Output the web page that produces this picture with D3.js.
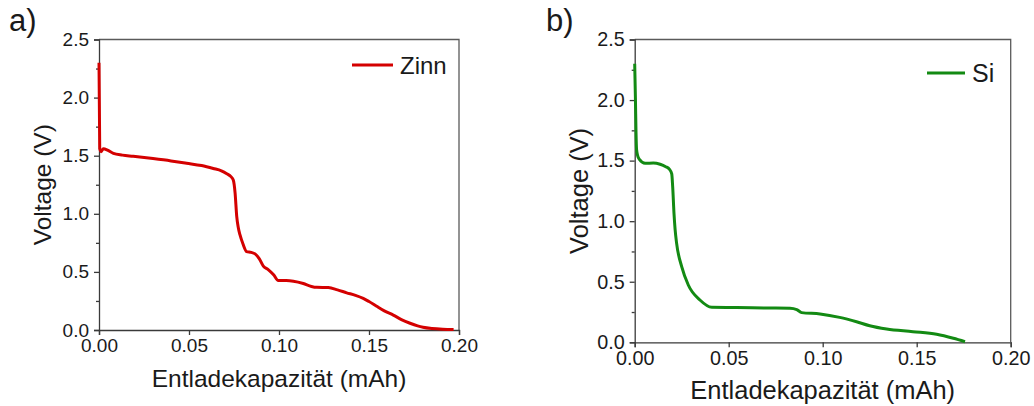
<!DOCTYPE html>
<html>
<head>
<meta charset="utf-8">
<script src="https://cdn.jsdelivr.net/npm/d3@7"></script>
<style>
  body { margin: 0; background: #fff; }
  text { font-family: "Liberation Sans", Arial, sans-serif; fill: #1a1a1a; }
</style>
</head>
<body>
<div id="chart"></div>
<script>
// discharge curves
const zinnCap  = [0, 0.0004, 0.0012, 0.0024, 0.005, 0.008, 0.013, 0.019, 0.03, 0.04, 0.0487, 0.057, 0.0635, 0.068, 0.071, 0.0733, 0.0746, 0.0756, 0.0765, 0.0774, 0.0783, 0.080, 0.082, 0.0845, 0.0867, 0.089, 0.0913, 0.094, 0.097, 0.0996, 0.104, 0.108, 0.1135, 0.118, 0.121, 0.1274, 0.1325, 0.1376, 0.1425, 0.1468, 0.150, 0.154, 0.1585, 0.1635, 0.168, 0.1728, 0.177, 0.180, 0.185, 0.191, 0.197];
const zinnVolt = [2.30, 1.56, 1.535, 1.56, 1.545, 1.52, 1.505, 1.495, 1.475, 1.455, 1.435, 1.415, 1.39, 1.37, 1.345, 1.32, 1.29, 1.18, 0.98, 0.88, 0.82, 0.74, 0.675, 0.668, 0.655, 0.615, 0.55, 0.52, 0.475, 0.425, 0.425, 0.42, 0.40, 0.375, 0.367, 0.365, 0.345, 0.32, 0.298, 0.272, 0.245, 0.207, 0.165, 0.128, 0.09, 0.058, 0.035, 0.023, 0.012, 0.006, 0.004];

const siCap  = [0, 0.0004, 0.0007, 0.001, 0.0016, 0.0025, 0.0055, 0.0099, 0.0135, 0.0165, 0.0184, 0.0197, 0.0202, 0.0209, 0.0215, 0.0223, 0.025, 0.0285, 0.0347, 0.041, 0.0543, 0.07, 0.0826, 0.0862, 0.0888, 0.0986, 0.109, 0.118, 0.125, 0.134, 0.148, 0.1606, 0.1695, 0.1757];
const siVolt = [2.30, 2.0, 1.73, 1.59, 1.54, 1.51, 1.478, 1.48, 1.47, 1.45, 1.43, 1.39, 1.285, 1.065, 0.93, 0.817, 0.624, 0.473, 0.349, 0.289, 0.287, 0.283, 0.281, 0.27, 0.245, 0.234, 0.206, 0.17, 0.137, 0.11, 0.088, 0.066, 0.033, 0.005];

const xTicks = [0, 0.05, 0.10, 0.15, 0.20];
const yTicks = [0, 0.5, 1.0, 1.5, 2.0, 2.5];
const yMinor = [0.25, 0.75, 1.25, 1.75, 2.25];

const xTitle = "Entladekapazität (mAh)";
const yTitle = "Voltage (V)";

const svg = d3.select("#chart").append("svg")
    .attr("width", 1034)
    .attr("height", 406);

const drawPanel = (p) => {
    const x = d3.scaleLinear().domain([0, 0.2]).range([p.left, p.right]);
    const y = d3.scaleLinear().domain([0, 2.5]).range([p.bottom, p.top]);
    const g = svg.append("g");
    const k = p.scale;

    // frame (top + right)
    g.append("path")
        .attr("d", `M${p.left},${p.top}H${p.right}V${p.bottom}`)
        .attr("fill", "none").attr("stroke", "#5a5a5a").attr("stroke-width", 1.3);

    // left axis
    const yAxis = g.append("g").attr("transform", `translate(${p.left},0)`)
        .call(d3.axisLeft(y).tickValues(yTicks).tickFormat(d3.format(".1f"))
            .tickSize(5).tickPadding(5));
    yAxis.selectAll("text").attr("font-size", 19 * k).attr("fill", "#1a1a1a")
        .attr("font-family", "Liberation Sans, Arial, sans-serif");
    g.append("g").attr("transform", `translate(${p.left},0)`)
        .call(d3.axisLeft(y).tickValues(yMinor).tickFormat("").tickSize(3))
        .select(".domain").remove();

    // bottom axis
    const xAxis = g.append("g").attr("transform", `translate(0,${p.bottom})`)
        .call(d3.axisBottom(x).tickValues(xTicks).tickFormat(d3.format(".2f"))
            .tickSize(5).tickPadding(4));
    xAxis.selectAll("text").attr("font-size", 19 * k).attr("fill", "#1a1a1a")
        .attr("font-family", "Liberation Sans, Arial, sans-serif");

    g.selectAll(".domain, .tick line").attr("stroke", "#3a3a3a").attr("stroke-width", 1.3);

    // curve
    const pts = p.cap.map((c, i) => [c, p.volt[i]]);
    g.append("path")
        .datum(pts)
        .attr("fill", "none")
        .attr("stroke", p.color)
        .attr("stroke-width", 3)
        .attr("stroke-linejoin", "round")
        .attr("d", d3.line().x(d => x(d[0])).y(d => y(d[1])).curve(d3.curveMonotoneX));

    // legend
    g.append("line")
        .attr("x1", p.legX).attr("x2", p.legX + p.legLen)
        .attr("y1", p.legY).attr("y2", p.legY)
        .attr("stroke", p.color).attr("stroke-width", 3);
    g.append("text")
        .attr("x", p.legX + p.legLen + 7).attr("y", p.legY + 8.5 * k)
        .attr("font-size", 24 * k)
        .text(p.name);

    // axis titles
    g.append("text")
        .attr("x", (p.left + p.right) / 2).attr("y", p.xTitleY)
        .attr("text-anchor", "middle").attr("font-size", 24.5 * k)
        .text(xTitle);
    g.append("text")
        .attr("transform", `translate(${p.yTitleX},${(p.top + p.bottom) / 2}) rotate(-90)`)
        .attr("text-anchor", "middle").attr("font-size", 24.5 * k)
        .text(yTitle);

    // panel letter
    g.append("text")
        .attr("x", p.labelX).attr("y", 31)
        .attr("font-size", 31)
        .text(p.label);
};

drawPanel({
    label: "a)", labelX: 9, name: "Zinn", color: "#d40000",
    cap: zinnCap, volt: zinnVolt,
    left: 99, right: 459, top: 39.5, bottom: 330, scale: 1,
    legX: 352, legY: 65, legLen: 41,
    xTitleY: 387, yTitleX: 51
});

drawPanel({
    label: "b)", labelX: 546, name: "Si", color: "#138a13",
    cap: siCap, volt: siVolt,
    left: 634.7, right: 1010.7, top: 39.5, bottom: 342.3, scale: 1.04,
    legX: 927, legY: 73, legLen: 38,
    xTitleY: 399, yTitleX: 588
});
</script>
</body>
</html>
